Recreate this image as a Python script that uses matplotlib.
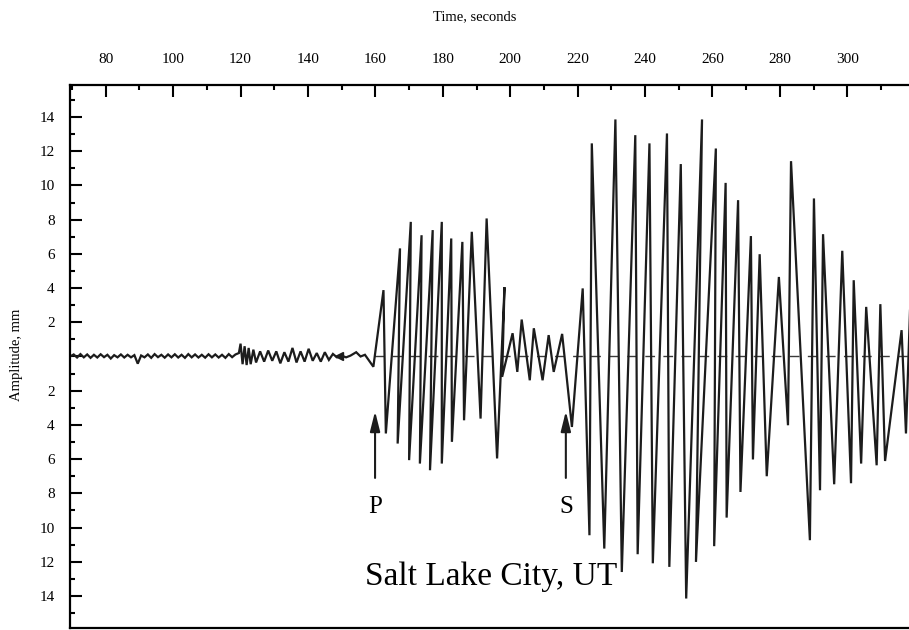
import matplotlib.pyplot as plt
from matplotlib.ticker import MultipleLocator

plt.rcParams['font.family'] = ['Liberation Serif', 'DejaVu Serif']

# axis ticks
time_ticks = [80, 100, 120, 140, 160, 180, 200, 220, 240, 260, 280, 300]
amp_ticks = [14, 12, 10, 8, 6, 4, 2, 0, -2, -4, -6, -8, -10, -12, -14]
amp_labels = ['14', '12', '10', '8', '6', '4', '2', '',
              '2', '4', '6', '8', '10', '12', '14']

# background noise before the P arrival
noise_time = [69.4, 70.5, 71.5, 72.5, 73.5, 74.5, 75.5, 76.5, 77.5, 78.5,
              79.5, 80.5, 81.5, 82.5, 83.5, 84.5, 85.5, 86.5, 87.5, 88.5,
              89.5, 90.5, 91.5, 92.5, 93.5, 94.5, 95.5, 96.5, 97.5, 98.5,
              99.5, 100.5, 101.5, 102.5, 103.5, 104.5, 105.5, 106.5, 107.5,
              108.5, 109.5, 110.5, 111.5, 112.5, 113.5, 114.5, 115.5, 116.5,
              117.5, 118.5,
              119.5, 120.0, 120.6, 121.2, 121.8, 122.4, 123.0, 123.8, 124.6,
              125.8, 127.0, 128.2, 129.4, 130.6, 131.8, 133.0, 134.2, 135.4,
              136.6, 137.8, 139.0, 140.2, 141.4, 142.6, 143.8, 145.0, 146.2,
              147.4, 148.6, 150.0, 151.3, 152.6, 154.3, 155.6, 156.9, 159.4]
noise_amp = [0.0, 0.12, -0.06, 0.14, -0.05, 0.12, -0.08, 0.1, -0.06, 0.13,
             -0.04, 0.1, -0.12, 0.08, -0.05, 0.12, -0.06, 0.1, -0.05, 0.08,
             -0.42, 0.06, -0.05, 0.12, -0.08, 0.14, -0.04, 0.1, -0.07, 0.12,
             -0.05, 0.13, -0.06, 0.1, -0.08, 0.14, -0.05, 0.12, -0.06,
             0.1, -0.07, 0.13, -0.05, 0.12, -0.06, 0.1, -0.08, 0.14,
             -0.04, 0.12,
             0.2, 0.75, -0.45, 0.6, -0.5, 0.5, -0.45, 0.4, -0.35,
             0.3, -0.3, 0.35, -0.25, 0.3, -0.4, 0.25, -0.3, 0.5,
             -0.35, 0.3, -0.3, 0.45, -0.25, 0.2, -0.3, 0.25, -0.2,
             0.15, -0.05, 0.05, -0.05, 0.05, 0.25, 0.0, 0.1, -0.6]

# P and S wave trains (vertices of the trace)
wave_time = [162.4, 163.1, 167.3, 166.6, 170.5, 170.0, 173.7, 173.2, 177.0,
             176.2, 179.7, 179.7, 182.5, 182.7, 185.8, 186.3, 188.6, 191.2,
             193.0, 196.1, 198.3, 197.6, 200.7, 202.1, 203.4, 205.8, 207.0,
             209.6, 211.4, 212.9, 215.4, 218.3, 221.5, 223.5, 224.2, 227.9,
             231.2, 233.1, 237.1, 237.8, 241.3, 242.3, 246.5, 247.2, 250.6,
             252.2, 256.9, 255.1, 261.0, 260.5, 263.9, 264.2, 267.6, 268.3,
             271.4, 272.0, 274.0, 276.1, 279.7, 282.4, 283.3, 288.9, 290.1,
             291.9, 292.8, 296.1, 298.5, 301.1, 301.9, 304.1, 305.6, 308.7,
             309.8, 311.2, 316.1, 317.4, 318.6]
wave_amp = [3.88, -4.50, 6.32, -5.09, 7.87, -6.06, 7.09, -6.26, 7.39,
            -6.65, 7.87, -6.26, 6.90, -4.99, 6.70, -3.73, 7.29, -3.63,
            8.07, -5.96, 4.05, -1.19, 1.36, -0.90, 2.16, -1.39, 1.65,
            -1.39, 1.25, -0.90, 1.32, -4.12, 3.98, -10.45, 12.46, -11.23,
            13.86, -12.60, 12.94, -11.56, 12.46, -12.09, 13.04, -12.30, 11.25,
            -14.15, 13.86, -12.01, 12.16, -11.09, 10.15, -9.42, 9.14, -7.92,
            7.04, -6.02, 5.98, -7.00, 4.65, -4.02, 11.42, -10.74, 9.24,
            -7.82, 7.15, -7.47, 6.18, -7.41, 4.46, -6.26, 2.90, -6.36,
            3.06, -6.11, 1.54, -4.50, 2.70]

baseline_time = [159.5, 318.6]
marker_time = 149.2

arrivals = ['P', 'S']
arrival_time = [159.9, 216.5]

fig = plt.figure(figsize=(9.09, 6.3), dpi=100)
ax = fig.add_axes([0.077, 0.003, 0.923, 0.862])

ax.plot(baseline_time, [0, 0], ls=(0, (7, 6)), lw=1.0, color='#3a3a3a',
        zorder=1)
ax.plot(noise_time + wave_time, noise_amp + wave_amp, color='#1c1c1c',
        lw=1.6, solid_joinstyle='miter', zorder=2)
ax.plot([marker_time], [0.02], marker='<', ms=6, color='#1c1c1c', zorder=3)

for name, t in zip(arrivals, arrival_time):
    ax.annotate('', xy=(t, -3.2), xytext=(t, -7.1),
                arrowprops=dict(arrowstyle='-|>,head_length=1.0,head_width=0.25',
                                mutation_scale=12, lw=1.5, color='#1c1c1c',
                                shrinkA=0, shrinkB=0))
    ax.text(t, -8.8, name, ha='center', va='center', fontsize=18)

ax.text(194.4, -12.85, 'Salt Lake City, UT', ha='center', va='center',
        fontsize=24)

ax.set_xlim(69.4, 318.3)
ax.set_ylim(-15.88, 15.87)

ax.xaxis.tick_top()
ax.set_xticks(time_ticks)
ax.xaxis.set_minor_locator(MultipleLocator(10))
ax.set_yticks(amp_ticks)
ax.set_yticklabels(amp_labels)
ax.yaxis.set_minor_locator(MultipleLocator(1))

ax.tick_params(axis='x', which='both', direction='in', top=True,
               bottom=False, labeltop=True, labelbottom=False)
ax.tick_params(axis='y', which='both', direction='in', left=True,
               right=False)
ax.tick_params(which='major', length=8.5, width=1.5, labelsize=11)
ax.tick_params(axis='x', which='major', pad=14)
ax.tick_params(axis='y', which='major', pad=11)
ax.tick_params(which='minor', length=3.5, width=1.5)

ax.spines['right'].set_visible(False)
for side in ['left', 'top', 'bottom']:
    ax.spines[side].set_linewidth(1.6)

fig.text(475 / 909, 1 - 17 / 630, 'Time, seconds', ha='center',
         va='center', fontsize=10.5)
fig.text(17 / 909, 1 - 355 / 630, 'Amplitude, mm', ha='center',
         va='center', rotation=90, fontsize=10.5)

fig.savefig('out.png', dpi=100)
